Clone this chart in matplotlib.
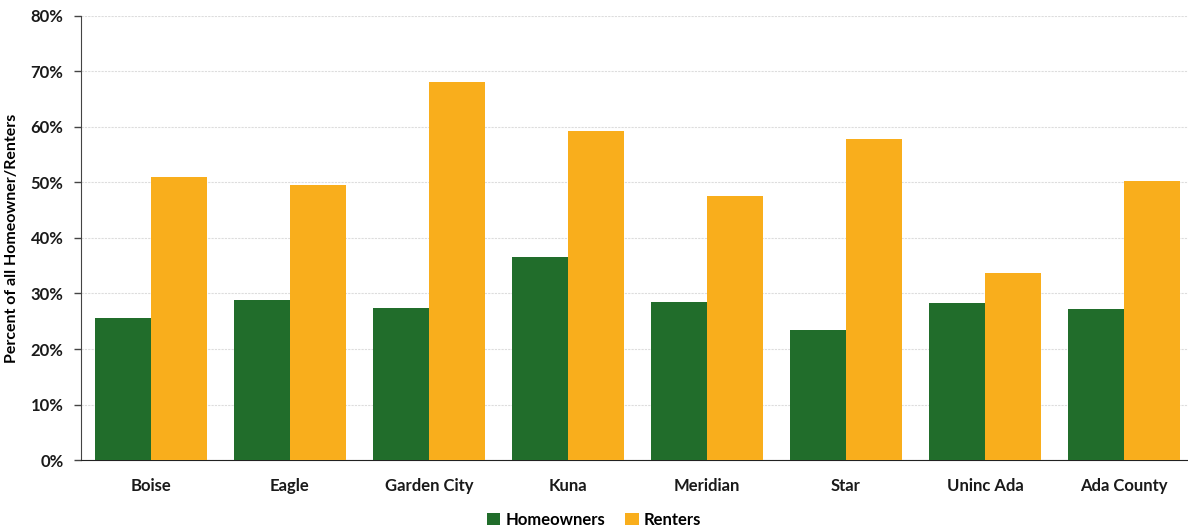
import matplotlib
matplotlib.use("Agg")
import matplotlib.pyplot as plt
import numpy as np
from matplotlib.ticker import FuncFormatter

plt.rcParams['font.family'] = ['Lato', 'DejaVu Sans']

places = ['Boise', 'Eagle', 'Garden City', 'Kuna', 'Meridian', 'Star', 'Uninc Ada', 'Ada County']
homeowners = [25.6, 28.8, 27.4, 36.6, 28.5, 23.4, 28.3, 27.2]
renters = [51.0, 49.5, 68.1, 59.3, 47.6, 57.8, 33.7, 50.3]

green = '#216d2b'
orange = '#f9ae1c'

fig = plt.figure(figsize=(11.88, 5.27), dpi=100)
ax = fig.add_axes([0.0686, 0.127, 0.936, 0.843])

x = np.arange(len(places))
w = 0.4
ax.bar(x - w/2, homeowners, w, color=green, label='Homeowners', zorder=3)
ax.bar(x + w/2, renters, w, color=orange, label='Renters', zorder=3)

ax.set_xlim(-0.5, len(places) - 0.5)
ax.set_ylim(0, 80)
ax.set_yticks(range(0, 81, 10))
ax.yaxis.set_major_formatter(FuncFormatter(lambda v, p: '%d%%' % v))
ax.set_xticks(x)
ax.set_xticklabels(places)
for lab in ax.get_xticklabels() + ax.get_yticklabels():
    lab.set_fontweight('bold')
    lab.set_fontsize(12)
    lab.set_color('#1a1a1a')
ax.tick_params(axis='x', length=0, pad=13)
ax.tick_params(axis='y', length=5, width=1, color='#444444', pad=8)

ax.grid(axis='y', color='#dddddd', linestyle=(0, (2, 1)), linewidth=0.8, zorder=0)
for s in ['top', 'right']:
    ax.spines[s].set_visible(False)
ax.spines['left'].set_color('#444444')
ax.spines['bottom'].set_color('#222222')

ax.set_ylabel('Percent of all Homeowner/Renters', fontsize=11.5, fontweight='bold', labelpad=8)

fig.legend(loc='lower center', bbox_to_anchor=(0.5, -0.03), ncol=2, frameon=False,
           prop={'weight': 'bold', 'size': 12}, handlelength=0.8, handleheight=0.8,
           handletextpad=0.3, columnspacing=1.2)

fig.savefig('out.png', dpi=100)
